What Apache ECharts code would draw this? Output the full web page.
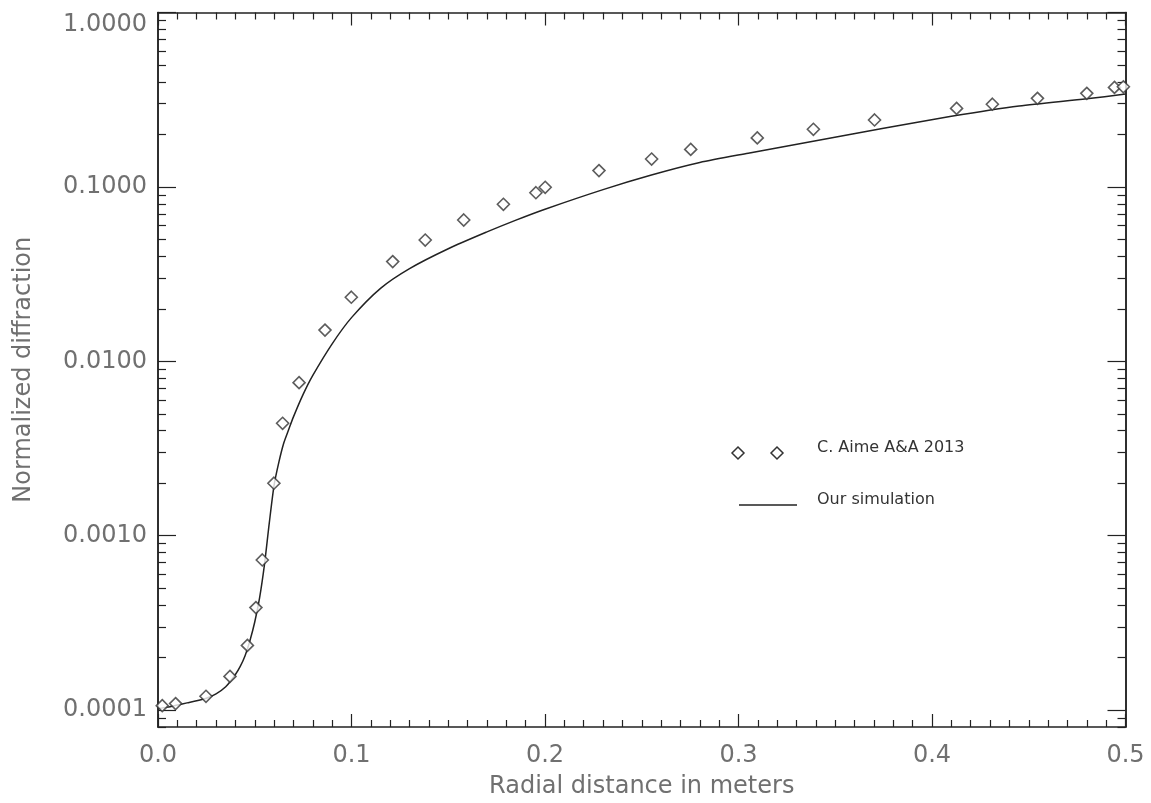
<!DOCTYPE html>
<html>
<head>
<meta charset="utf-8">
<script src="https://cdn.jsdelivr.net/npm/echarts@6/dist/echarts.min.js"></script>
<style>
  html, body { margin: 0; padding: 0; background: #fff; }
  #chart { width: 1151px; height: 803px; }
</style>
</head>
<body>
<div id="chart"></div>
<script>
// C. Aime A&A 2013 (diamonds)
const aimeX = [0.0022, 0.0091, 0.0248, 0.0372, 0.0462, 0.0506, 0.0539, 0.0599, 0.0644, 0.0729,
  0.0863, 0.0999, 0.1213, 0.1381, 0.158, 0.1785, 0.1953, 0.2001, 0.2279, 0.2551,
  0.2753, 0.3097, 0.3387, 0.3703, 0.4127, 0.4312, 0.4545, 0.480, 0.4943, 0.4989]
const aimeY = [1.06e-4, 1.09e-4, 1.20e-4, 1.56e-4, 2.35e-4, 3.87e-4, 7.26e-4, 2.0e-3, 4.41e-3, 7.54e-3,
  0.0151, 0.0233, 0.0373, 0.0496, 0.0646, 0.0795, 0.0926, 0.0995, 0.124, 0.1445,
  0.164, 0.191, 0.214, 0.242, 0.282, 0.298, 0.322, 0.344, 0.372, 0.375]

// our simulation (solid line)
const simX = [0, 0.005, 0.01, 0.015, 0.02, 0.025, 0.03, 0.035, 0.04, 0.0425,
  0.045, 0.0475, 0.05, 0.0525, 0.055, 0.0575, 0.06, 0.0625, 0.065, 0.0675,
  0.07, 0.075, 0.08, 0.09, 0.1, 0.115, 0.13, 0.15, 0.17, 0.185,
  0.2, 0.23, 0.255, 0.28, 0.305, 0.34, 0.375, 0.41, 0.445, 0.48, 0.5]
const simY = [1.02e-4, 1.04e-4, 1.07e-4, 1.10e-4, 1.13e-4, 1.17e-4, 1.24e-4, 1.36e-4, 1.6e-4, 1.78e-4,
  2.05e-4, 2.5e-4, 3.2e-4, 4.4e-4, 6.8e-4, 1.18e-3, 1.95e-3, 2.65e-3, 3.4e-3, 4.05e-3,
  4.8e-3, 6.46e-3, 8.3e-3, 0.0126, 0.0178, 0.0262, 0.034, 0.0442, 0.0552, 0.0645,
  0.0745, 0.0965, 0.117, 0.138, 0.156, 0.184, 0.217, 0.254, 0.291, 0.32, 0.341]

// axes
const xTicks = [0, 0.1, 0.2, 0.3, 0.4, 0.5]
const xTickLabels = ['0.0', '0.1', '0.2', '0.3', '0.4', '0.5']
const yMajor = [1e-4, 1e-3, 1e-2, 1e-1, 1]
const yTickLabels = ['0.0001', '0.0010', '0.0100', '0.1000', '1.0000']
const yMin = 8e-5
const yMax = 1

const log = v => Math.log10(v)
const yMajorLog = yMajor.map(log)
let yMinorLog = []
for (let d = -5; d < 0; d++) {
  for (let k = 2; k <= 9; k++) {
    const v = k * Math.pow(10, d)
    if (v >= yMin && v < yMax) yMinorLog.push(log(v))
  }
}

const axisColor = '#222'
const labelColor = '#707070'
const font = 'DejaVu Sans'

const chart = echarts.init(document.getElementById('chart'))

const xBase = {
  type: 'value',
  min: 0,
  max: 0.5,
  interval: 0.1,
  splitLine: { show: false },
  axisLine: { show: true, onZero: false, lineStyle: { color: axisColor, width: 1.5 } },
  axisTick: { show: true, inside: true, length: 13, lineStyle: { color: axisColor, width: 1.2 } },
  minorTick: { show: true, splitNumber: 10, length: 7, lineStyle: { color: axisColor, width: 1.2 } }
}

const yBase = {
  type: 'value',
  min: log(yMin),
  max: log(yMax),
  splitLine: { show: false },
  axisLine: { show: true, onZero: false, lineStyle: { color: axisColor, width: 1.5 } }
}

const option = {
  animation: false,
  backgroundColor: '#fff',
  grid: { left: 158, right: 25.5, top: 12.5, bottom: 76, outerBoundsMode: 'none' },
  xAxis: [
    Object.assign({}, xBase, {
      position: 'bottom',
      axisLabel: {
        color: labelColor, fontFamily: font, fontSize: 24, margin: 17,
        formatter: v => xTickLabels[xTicks.findIndex(t => Math.abs(t - v) < 1e-9)] ?? ''
      },
      name: 'Radial distance in meters',
      nameLocation: 'middle',
      nameGap: 48,
      nameTextStyle: { color: labelColor, fontFamily: font, fontSize: 24 }
    }),
    Object.assign({}, xBase, {
      position: 'top',
      axisLabel: { show: false }
    })
  ],
  yAxis: [
    Object.assign({}, yBase, {
      position: 'left',
      axisTick: { show: true, inside: true, length: 18, customValues: yMajorLog,
        lineStyle: { color: axisColor, width: 1.2 } },
      axisLabel: {
        customValues: yMajorLog,
        color: labelColor, fontFamily: font, fontSize: 24, margin: 11,
        verticalAlignMaxLabel: 'top',
        formatter: v => yTickLabels[yMajorLog.findIndex(t => Math.abs(t - v) < 1e-9)] ?? ''
      },
      name: 'Normalized diffraction',
      nameLocation: 'middle',
      nameGap: 122,
      nameTextStyle: { color: labelColor, fontFamily: font, fontSize: 24 }
    }),
    Object.assign({}, yBase, {
      position: 'left',
      axisTick: { show: true, inside: true, length: 8, customValues: yMinorLog,
        lineStyle: { color: axisColor, width: 1.2 } },
      axisLabel: { show: false }
    }),
    Object.assign({}, yBase, {
      position: 'right',
      axisTick: { show: true, inside: true, length: 18, customValues: yMajorLog,
        lineStyle: { color: axisColor, width: 1.2 } },
      axisLabel: { show: false }
    }),
    Object.assign({}, yBase, {
      position: 'right',
      axisTick: { show: true, inside: true, length: 8, customValues: yMinorLog,
        lineStyle: { color: axisColor, width: 1.2 } },
      axisLabel: { show: false }
    })
  ],
  series: [
    {
      name: 'Our simulation',
      type: 'line',
      data: simX.map((x, i) => [x, log(simY[i])]),
      showSymbol: false,
      smooth: 0.25,
      lineStyle: { color: axisColor, width: 1.5 },
      z: 2
    },
    {
      name: 'C. Aime A&A 2013',
      type: 'scatter',
      data: aimeX.map((x, i) => [x, log(aimeY[i])]),
      symbol: 'diamond',
      symbolSize: 12,
      itemStyle: { color: '#fff', borderColor: '#333', borderWidth: 1.6 },
      z: 3
    }
  ],
  // legend inside the plot
  graphic: [
    { type: 'polygon', shape: { points: [[738, 447], [744, 453], [738, 459], [732, 453]] },
      style: { fill: '#fff', stroke: '#333', lineWidth: 1.5 } },
    { type: 'polygon', shape: { points: [[777, 447], [783, 453], [777, 459], [771, 453]] },
      style: { fill: '#fff', stroke: '#333', lineWidth: 1.5 } },
    { type: 'text', x: 817, y: 448,
      style: { text: 'C. Aime A&A 2013', fill: '#333', font: '16px "DejaVu Sans"', verticalAlign: 'middle' } },
    { type: 'line', shape: { x1: 739, y1: 505, x2: 797, y2: 505 },
      style: { stroke: axisColor, lineWidth: 1.5 } },
    { type: 'text', x: 817, y: 500,
      style: { text: 'Our simulation', fill: '#333', font: '16px "DejaVu Sans"', verticalAlign: 'middle' } }
  ]
}

chart.setOption(option)
</script>
</body>
</html>
